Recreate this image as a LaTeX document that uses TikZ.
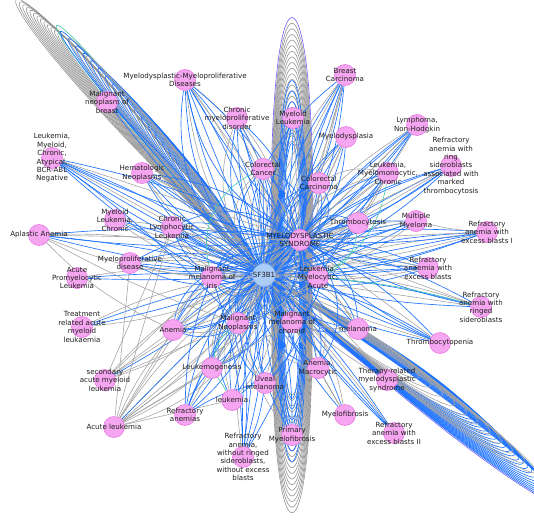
\documentclass[tikz,border=0pt]{standalone}
\usepackage{fontspec}
\setmainfont{DejaVu Sans}
\usetikzlibrary{calc}
\pgfdeclarelayer{bg}\pgfdeclarelayer{fg}\pgfsetlayers{bg,main,fg}
\definecolor{pinkf}{RGB}{246,166,240}
\definecolor{pinkd}{RGB}{232,120,228}
\definecolor{hubf}{RGB}{170,205,250}
\definecolor{hubd}{RGB}{125,170,235}
\definecolor{eblue}{RGB}{30,115,255}
\definecolor{egray}{RGB}{165,165,165}
\definecolor{egrayd}{RGB}{150,150,150}
\definecolor{eteal}{RGB}{70,200,170}
\definecolor{epurple}{RGB}{110,90,250}
\definecolor{txt}{RGB}{30,30,30}
\tikzset{
 dis/.style={circle,fill=pinkf,draw=pinkd,line width=0.6pt,minimum size=21pt,inner sep=0pt},
 hub/.style={circle,fill=hubf,draw=hubd,line width=0.6pt,minimum size=23pt,inner sep=0pt},
 lab/.style={font=\fontsize{7.1}{8.4}\selectfont,align=center,text=txt,inner sep=0pt},
 eb/.style={draw=eblue,line width=0.65pt},
 eg/.style={draw=egray,line width=0.6pt},
 egd/.style={draw=egrayd,line width=0.6pt},
 et/.style={draw=eteal,line width=0.6pt},
 ep/.style={draw=epurple,line width=0.6pt},
}
\newcommand\dz[4]{\node[dis] (#1) at (#2,#3) {};\begin{pgfonlayer}{fg}\node[lab] at (#1) {#4};\end{pgfonlayer}}
\begin{document}
\begin{tikzpicture}[x=1pt,y=-1pt]
\useasboundingbox (0,0) rectangle (534,524);
\node[hub] (sf) at (264,275) {};
\begin{pgfonlayer}{fg}\node[lab] at (sf) {SF3B1};\end{pgfonlayer}
\dz{mds}{300}{240}{MYELODYSPLASTIC\\SYNDROME}
\dz{lma}{318}{277}{Leukemia,\\Myelocytic,\\Acute}
\dz{mmi}{212}{277}{Malignant\\melanoma of\\iris}
\dz{mneo}{238}{323}{Malignant\\Neoplasms}
\dz{mmc}{292}{322}{Malignant\\melanoma of\\choroid}
\dz{leukgen}{212}{368}{Leukemogenesis}
\dz{uveal}{265}{383}{Uveal\\melanoma}
\dz{leuk}{232}{400}{leukemia}
\dz{amac}{318}{368}{Anemia,\\Macrocytic}
\dz{mfib}{345}{415}{Myelofibrosis}
\dz{pmf}{292}{435}{Primary\\Myelofibrosis}
\dz{rawo}{243}{457}{Refractory\\anemia,\\without ringed\\sideroblasts,\\without excess\\blasts}
\dz{ranemias}{185}{415}{Refractory\\anemias}
\dz{acl}{114}{427}{Acute leukemia}
\dz{saml}{105}{380}{secondary\\acute myeloid\\leukemia}
\dz{anemia}{173}{330}{Anemia}
\dz{traml}{82}{327}{Treatment\\related acute\\myeloid\\leukaemia}
\dz{apl}{77}{278}{Acute\\Promyelocytic\\Leukemia}
\dz{mpd}{130}{263}{Myeloproliferative\\disease}
\dz{aa}{39}{235}{Aplastic Anemia}
\dz{mlc}{115}{220}{Myeloid\\Leukemia,\\Chronic}
\dz{cll}{172}{227}{Chronic\\Lymphocytic\\Leukemia}
\dz{hn}{142}{173}{Hematologic\\Neoplasms}
\dz{lmca}{52}{158}{Leukemia,\\Myeloid,\\Chronic,\\Atypical,\\BCR-ABL\\Negative}
\dz{mnb}{107}{102}{Malignant\\neoplasm of\\breast}
\dz{mdmpd}{185}{80}{Myelodysplastic-Myeloproliferative\\Diseases}
\dz{cmd}{237}{118}{Chronic\\myeloproliferative\\disorder}
\dz{crc}{263}{169}{Colorectal\\Cancer}
\dz{ml}{293}{118}{Myeloid\\Leukemia}
\dz{bc}{345}{75}{Breast\\Carcinoma}
\dz{mdp}{346}{137}{Myelodysplasia}
\dz{crca}{319}{183}{Colorectal\\Carcinoma}
\dz{lmmc}{388}{173}{Leukemia,\\Myelomonocytic,\\Chronic}
\dz{nhl}{417}{125}{Lymphoma,\\Non-Hodgkin}
\dz{rarst}{451}{166}{Refractory\\anemia with\\ring\\sideroblasts\\associated with\\marked\\thrombocytosis}
\dz{thr}{358}{223}{Thrombocytosis}
\dz{mm}{416}{221}{Multiple\\Myeloma}
\dz{raeb1}{487}{232}{Refractory\\anemia with\\excess blasts I}
\dz{raeb}{428}{268}{Refractory\\anaemia with\\excess blasts}
\dz{rars}{481}{307}{Refractory\\anemia with\\ringed\\sideroblasts}
\dz{tcp}{440}{343}{Thrombocytopenia}
\dz{mel}{358}{329}{melanoma}
\dz{tmds}{387}{380}{Therapy-related\\myelodysplastic\\syndrome}
\dz{raeb2}{394}{433}{Refractory\\anemia with\\excess blasts II}
\coordinate (vc) at (292,268);
\begin{pgfonlayer}{bg}
% vertical bundle (top and bottom)
\draw[ep] ($(vc)+(-20,0)$) .. controls +(-8,-334) and +(8,-334) .. ($(vc)+(20,0)$);
\foreach \i in {1,...,22}{
 \pgfmathsetmacro\aa{20-0.45*\i}\pgfmathsetmacro\len{334-7.5*\i}
 \draw[egd] ($(vc)+(-\aa,0)$) .. controls +(-7,-\len) and +(7,-\len) .. ($(vc)+(\aa,0)$);
 \draw[egd] ($(vc)+(-\aa,0)$) .. controls +(-7,\len) and +(7,\len) .. ($(vc)+(\aa,0)$);
}
\foreach \i in {0,...,6}{
 \pgfmathsetmacro\aa{13-\i}\pgfmathsetmacro\len{250-14*\i}
 \draw[eb] ($(vc)+(-\aa,0)$) .. controls +(-6,-\len) and +(6,-\len) .. ($(vc)+(\aa,0)$);
 \draw[eb] ($(vc)+(-\aa,0)$) .. controls +(-6,\len+8) and +(6,\len+8) .. ($(vc)+(\aa,0)$);
}
% top-left bundle
\foreach \i in {0,...,13}{
 \pgfmathsetmacro\len{492-6*\i}\pgfmathsetmacro\pa{4.5-0.25*\i}
 \draw[egd] (sf) .. controls ($(sf)!\len pt!\pa:(mnb)$) and ($(sf)!\len pt!-5:(mnb)$) .. (sf);
}
\draw[et] (sf) .. controls ($(sf)!430pt!1:(mnb)$) and ($(sf)!430pt!-6:(mnb)$) .. (sf);
\foreach \i in {0,...,16}{
 \pgfmathsetmacro\len{420-14*\i}\pgfmathsetmacro\qa{-5.5-0.45*\i}
 \draw[eb] (sf) .. controls ($(sf)!\len pt!0.8:(mnb)$) and ($(sf)!\len pt!\qa:(mnb)$) .. (sf);
}
\foreach \i in {0,...,6}{
 \pgfmathsetmacro\len{405-32*\i}\pgfmathsetmacro\qa{-6-0.8*\i}
 \draw[eg] (sf) .. controls ($(sf)!\len pt!0.5:(mnb)$) and ($(sf)!\len pt!\qa:(mnb)$) .. (sf);
}
% bottom-right bundle
\draw[ep] (sf) .. controls ($(sf)!503pt!-2:(tmds)$) and ($(sf)!503pt!8:(tmds)$) .. (sf);
\foreach \i in {0,...,21}{
 \pgfmathsetmacro\len{497-8*\i}\pgfmathsetmacro\pa{-1.6+0.07*\i}\pgfmathsetmacro\qa{7.6+0.25*\i}
 \draw[eb] (sf) .. controls ($(sf)!\len pt!\pa:(tmds)$) and ($(sf)!\len pt!\qa:(tmds)$) .. (sf);
}
\foreach \i in {0,...,10}{
 \pgfmathsetmacro\len{445-20*\i}\pgfmathsetmacro\qa{9+0.5*\i}
 \draw[eg] (sf) .. controls ($(sf)!\len pt!0:(tmds)$) and ($(sf)!\len pt!\qa:(tmds)$) .. (sf);
}
% hub edges
\foreach \n/\bl/\gl in {
 mdmpd/{-20,-10,0,10,20,30}/{-30,-15,15},
 mnb/{-4,4}/{8},
 cmd/{-20,-8,8,20}/{-30,30},
 crc/{-40,-20,0,20,40}/{-50,50},
 ml/{-10,0,10}/{-20,20},
 bc/{-12,-4,4,12}/{-8,8,16},
 mdp/{-16,0,16}/{-8,8},
 crca/{-40,-20,20,40}/{-30,30},
 lmmc/{-10,10}/{-25,0,25},
 nhl/{-5,5}/{0,12},
 rarst/{-12,-4,4,12}/{0},
 thr/{-20,0,20}/{-30,-10,10,30},
 mm/{-10,0,10}/{-18,18},
 raeb1/{-8,0,8}/{-4,4},
 raeb/{-15,0,15}/{-8,8},
 rars/{-6,6}/{0,10},
 tcp/{-10,0,10}/{-5},
 mel/{-40,-20,20,40}/{-30,0,30},
 tmds/{-4,4}/{-10,10},
 raeb2/{-6,0,6}/{3},
 mfib/{-10,10}/{0,20},
 amac/{-40,-20,20,40}/{-50,0,50},
 pmf/{-20,-10,0,10,20}/{-30,30},
 uveal/{-50,-30,30,50}/{-40,40},
 rawo/{-8,0,8}/{-15},
 leuk/{-40,-20,0,20,40}/{-30,30},
 leukgen/{-40,-20,0,20,40}/{-30,30},
 ranemias/{-20,-8,8,20}/{0},
 acl/{0}/{-20,-10,0,10,20,30},
 saml/{4}/{-15,0,15},
 anemia/{-50,-30,-10,10,30,50}/{-40,-20,20,40},
 traml/{-4,4}/{-10,10},
 apl/{-3,3}/{-8},
 mpd/{-20,0,20}/{-10,10},
 aa/{-4,4}/{-12,12},
 mlc/{-6,6}/{-15,0,15},
 cll/{-40,-20,0,20,40}/{-30,30},
 hn/{-20,-8,8,20}/{-15,15},
 lmca/{-8,-3,3,8}/{0},
 mmi/{-60,-40,-20,20,40,60}/{-50,0,50},
 mneo/{-60,-40,-20,20,40,60}/{-50,0,50},
 mmc/{-60,-40,-20,20,40,60}/{-50,0,50},
 lma/{-60,-40,-20,20,40,60}/{-50,0,50},
 mds/{-60,-40,-20,20,40,60}/{-50,0,50}}{
 \foreach \b in \gl {\draw[eg] (sf) to[bend left=\b] (\n);}
 \foreach \b in \bl {\draw[eb] (sf) to[bend left=\b] (\n);}
}
% edges from the syndrome node
\foreach \n/\bl/\gl in {
 mdmpd/{-15,5,25}/{0}, cmd/{-20,10}/{0}, crc/{-40,40}/{0}, ml/{-15,15}/{0},
 bc/{-10,10}/{0}, mdp/{-20,20}/{0}, crca/{-50,50}/{0}, lmmc/{-20,20}/{0},
 nhl/{-8,8}/{0}, rarst/{-10,10}/{0}, thr/{-40,40}/{0}, mm/{-10,10}/{0},
 raeb1/{-6,6}/{0}, raeb/{-10,10}/{0}, rars/{-8,8}/{0}, tcp/{-10,10}/{0},
 mel/{-30,30}/{0}, hn/{-15,15}/{0}, cll/{-30,30}/{0}, aa/{-6,6}/{0},
 lmca/{-6,6}/{0}, mmi/{-40,40}/{0}, anemia/{-30,30}/{0}, mneo/{-40,40}/{0},
 leukgen/{-30,30}/{0}, uveal/{-30,30}/{0}, amac/{-40,40}/{0}, mpd/{-20,20}/{0},
 lma/{-50,50}/{0}, mmc/{-50,50}/{0}}{
 \foreach \b in \gl {\draw[eg] (mds) to[bend left=\b] (\n);}
 \foreach \b in \bl {\draw[eb] (mds) to[bend left=\b] (\n);}
}
% other connections
\foreach \m in {anemia,mneo,cll,leukgen,mmi,mpd,leuk,lma,mmc}{\draw[eg] (acl) -- (\m);}
\foreach \m in {anemia,cll,mneo,mmi}{\draw[eg] (saml) -- (\m);}
\foreach \m in {amac,mmc}{\draw[eg] (mfib) -- (\m);}
\foreach \m in {mneo,mmi,leukgen,uveal}{\draw[eb] (ranemias) to[bend left=10] (\m);}
\foreach \m in {mmi,mneo,lma,uveal}{\draw[eb] (rawo) to[bend right=8] (\m);}
\draw[eg] (lmmc) -- (thr);
\draw[eg] (lmmc) to[bend right=20] (crca);
\draw[et] (lmmc) to[bend left=25] (lma);
\draw[et] (rars) to[bend right=5] (lma);
\draw[et] (leukgen) -- (leuk);
\draw[et] (leukgen) to[bend left=20] (mneo);
\draw[et] (crc) to[bend right=40] (mmi);
\draw[et] (thr) to[bend left=30] (lma);
\draw[eb] (lmca) to[bend right=5] (mmi);
\draw[eb] (lmca) to[bend left=5] (mneo);
\draw[eg] (aa) to[bend right=10] (anemia);
\draw[eg] (aa) to[bend right=5] (mneo);
\draw[eb] (bc) to[bend right=10] (crc);
\draw[eg] (bc) -- (crca);
\draw[eg] (nhl) -- (thr);
\draw[eb] (nhl) -- (lma);
\draw[eg] (mm) to[bend right=5] (raeb1);
\draw[eb] (raeb1) to[bend left=5] (lma);
\draw[eb] (raeb) -- (lma);
\draw[eb] (tcp) to[bend left=5] (lma);
\draw[eb] (raeb2) -- (mmc);
\end{pgfonlayer}
\end{tikzpicture}
\end{document}
